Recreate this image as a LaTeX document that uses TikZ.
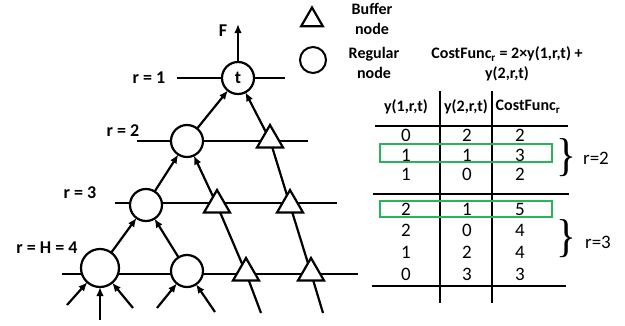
\documentclass[tikz,border=0pt]{standalone}
\usepackage{fontspec}
\setmainfont{Carlito}
\newfontfamily\bracefont{Liberation Serif}
\usetikzlibrary{arrows.meta,shapes.geometric,backgrounds}

\begin{document}
\begin{tikzpicture}[x=1pt,y=-1pt,
  every node/.style={inner sep=0pt,outer sep=0pt},
  reg/.style={circle,draw,line width=2.2pt,fill=white,minimum size=32pt},
  buf/.style={regular polygon,regular polygon sides=3,draw,line width=2.2pt,fill=white,minimum size=30pt},
  lvl/.style={line width=1.2pt},
  edge/.style={line width=2.2pt},
  arr/.style={line width=2.2pt,-{Latex[length=9pt,width=7.5pt]}},
  lbl/.style={font=\fontsize{18}{18}\selectfont\bfseries},
  small/.style={font=\fontsize{16}{20}\selectfont\bfseries,align=center},
  cell/.style={font=\fontsize{19}{19}\selectfont},
  hcell/.style={font=\fontsize{16}{16}\selectfont\bfseries},
  rule/.style={line width=2.6pt},
  vrule/.style={line width=2pt},
  pick/.style={draw={rgb,255:red,40;green,180;blue,90},line width=1.3pt},
  bracel/.style={font=\bracefont\fontsize{46}{46}\selectfont},
]
\useasboundingbox (0,0) rectangle (625,325);

% ---- tree nodes ----
\node[reg,font=\fontsize{18}{18}\selectfont\bfseries] (t) at (238,78) {t};
\node[reg] (c2) at (187,141) {};
\node[buf] (b2) at (270,140) {};
\node[reg] (c3) at (146,205) {};
\node[buf] (b3a) at (217,205) {};
\node[buf] (b3b) at (290,205) {};
\node[reg,minimum size=38pt] (c4a) at (100,268) {};
\node[reg] (c4b) at (187,271) {};
\node[buf] (b4a) at (246,273) {};
\node[buf] (b4b) at (311,273) {};

% ---- level labels ----
\node[lbl] (l1) at (149,78) {r = 1};
\node[lbl] (l2) at (123,131) {r = 2};
\node[lbl] (l3) at (80,193) {r = 3};
\node[lbl] (l4) at (47,248) {r = H = 4};
\node[lbl] (fl) at (223,31) {F};

% ---- free ends ----
\coordinate (fout) at (238,24);
\coordinate (ba) at (261,313);
\coordinate (bb) at (323,313);
\coordinate (i1) at (67,305);
\coordinate (i2) at (100,320);
\coordinate (i3) at (133,308);
\coordinate (i4) at (157,308);
\coordinate (i5) at (215,312);

\begin{pgfonlayer}{background}
  % level lines
  \draw[lvl] (177,78) -- (285,78);
  \draw[lvl] (137,141) -- (308,141);
  \draw[lvl] (115,203) -- (337,203);
  \draw[lvl] (62,274) -- (358,274);
  % chains through buffer nodes
  \draw[edge] (ba) -- (b4a.center) -- (b3a.center);
  \draw[arr] (b3a.center) -- (c2);
  \draw[edge] (bb) -- (b4b.center) -- (b3b.center) -- (b2.center);
  \draw[arr] (b2.center) -- (t);
\end{pgfonlayer}

% ---- tree edges ----
\draw[arr] (t) -- (fout);
\draw[arr] (c2) -- (t);
\draw[arr] (c3) -- (c2);
\draw[arr] (c4a) -- (c3);
\draw[arr] (c4b) -- (c3);
\draw[arr] (i1) -- (c4a);
\draw[arr] (i2) -- (c4a);
\draw[arr] (i3) -- (c4a);
\draw[arr] (i4) -- (c4b);
\draw[arr] (i5) -- (c4b);

% ---- legend ----
\node[buf,minimum size=25pt] (lgb) at (312,20) {};
\node[small] (lgbt) at (372,19) {Buffer\\node};
\node[reg,minimum size=26pt,line width=2pt] (lgr) at (313,60) {};
\node[small] (lgrt) at (374,63) {Regular\\node};
\node[small] (cf) at (507,64) {CostFunc\textsubscript{r} = 2×y(1,r,t) +\\y(2,r,t)};

% ---- table ----
\draw[vrule] (440,91) -- (440,303);
\draw[vrule] (492,91) -- (492,303);
\draw[rule] (375,126) -- (568,126);
\draw[rule] (373,194) -- (569,194);
\draw[rule] (372,286) -- (566,286);

\node[hcell] (h1) at (406,107) {y(1,r,t)};
\node[hcell] (h2) at (466,107) {y(2,r,t)};
\node[hcell] (h3) at (528,107) {CostFunc\textsubscript{r}};

\draw[pick] (380,144) rectangle (552,162);
\draw[pick] (380,201) rectangle (552,217);

\foreach \y/\a/\b/\c [count=\i] in {135/0/2/2,155/1/1/3,174/1/0/2,209/2/1/5,230/2/0/4,252/1/2/4,274/0/3/3}{
  \node[cell] (ra\i) at (406,\y) {\a};
  \node[cell] (rb\i) at (467,\y) {\b};
  \node[cell] (rc\i) at (520,\y) {\c};
}

\node[bracel] (br2) at (566,158) {\scalebox{0.9}[1.0]{\}}};
\node[cell] (g2) at (596,158) {r=2};
\node[bracel] (br3) at (566,239) {\scalebox{0.9}[1.0]{\}}};
\node[cell] (g3) at (598,242) {r=3};
\end{tikzpicture}
\end{document}
